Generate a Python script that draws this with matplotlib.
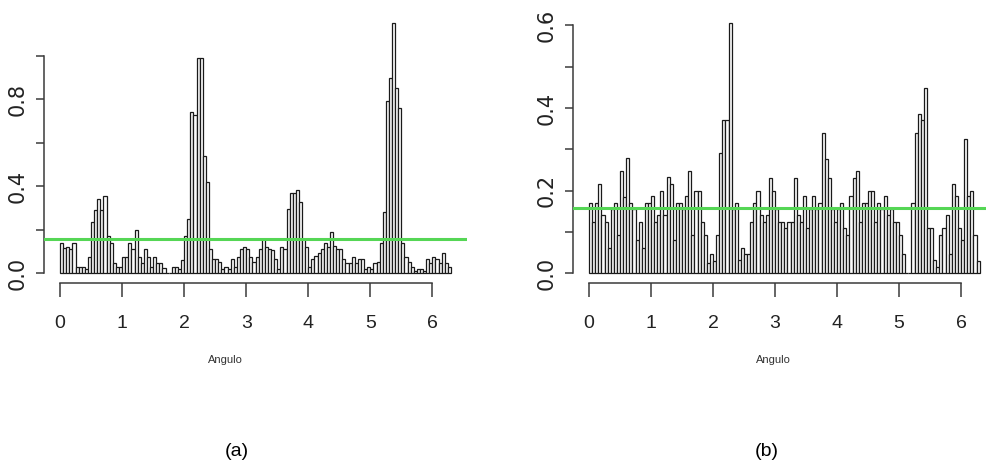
import numpy as np
import matplotlib
matplotlib.use("Agg")
import matplotlib.pyplot as plt

# Histogram densities of the angle (radians), bin width 0.05 over [0, 6.3]
bin_width = 0.05
dens_a = [0.14, 0.115, 0.123, 0.11, 0.14, 0.03, 0.03, 0.03, 0.018, 0.077,
          0.234, 0.29, 0.34, 0.29, 0.355, 0.17, 0.14, 0.046, 0.03, 0.03,
          0.077, 0.077, 0.14, 0.11, 0.2, 0.077, 0.046, 0.11, 0.077, 0.03,
          0.077, 0.046, 0.046, 0.023, 0.0, 0.0, 0.03, 0.03, 0.018, 0.06,
          0.17, 0.25, 0.74, 0.73, 0.99, 0.99, 0.54, 0.42, 0.11, 0.065,
          0.065, 0.05, 0.018, 0.03, 0.018, 0.065, 0.03, 0.077, 0.11, 0.123,
          0.11, 0.077, 0.05, 0.077, 0.11, 0.157, 0.123, 0.11, 0.108, 0.065,
          0.018, 0.123, 0.11, 0.295, 0.37, 0.37, 0.385, 0.326, 0.157, 0.123,
          0.03, 0.065, 0.08, 0.095, 0.11, 0.14, 0.123, 0.19, 0.125, 0.11,
          0.11, 0.065, 0.046, 0.046, 0.077, 0.046, 0.065, 0.065, 0.018, 0.03,
          0.018, 0.046, 0.05, 0.14, 0.28, 0.79, 0.9, 1.15, 0.85, 0.76,
          0.14, 0.077, 0.054, 0.03, 0.01, 0.018, 0.018, 0.01, 0.065, 0.046,
          0.077, 0.065, 0.046, 0.095, 0.046, 0.03]
dens_b = [0.17, 0.125, 0.17, 0.217, 0.14, 0.125, 0.06, 0.156, 0.17, 0.093,
          0.247, 0.185, 0.279, 0.17, 0.156, 0.08, 0.125, 0.06, 0.17, 0.17,
          0.187, 0.125, 0.14, 0.2, 0.14, 0.232, 0.217, 0.08, 0.17, 0.17,
          0.156, 0.187, 0.247, 0.093, 0.2, 0.2, 0.125, 0.093, 0.024, 0.047,
          0.03, 0.093, 0.29, 0.37, 0.37, 0.605, 0.156, 0.17, 0.032, 0.06,
          0.047, 0.047, 0.125, 0.17, 0.2, 0.14, 0.125, 0.14, 0.23, 0.2,
          0.156, 0.125, 0.125, 0.11, 0.125, 0.125, 0.23, 0.14, 0.125, 0.187,
          0.11, 0.156, 0.187, 0.156, 0.17, 0.34, 0.277, 0.23, 0.156, 0.123,
          0.156, 0.17, 0.11, 0.093, 0.187, 0.23, 0.247, 0.125, 0.17, 0.17,
          0.2, 0.2, 0.125, 0.17, 0.156, 0.187, 0.14, 0.156, 0.125, 0.125,
          0.093, 0.047, 0.0, 0.0, 0.17, 0.34, 0.385, 0.37, 0.448, 0.11,
          0.11, 0.032, 0.016, 0.093, 0.11, 0.14, 0.047, 0.217, 0.187, 0.11,
          0.08, 0.324, 0.187, 0.2, 0.093, 0.03]

x_ticks = [0, 1, 2, 3, 4, 5, 6]
x_label = "Angulo"
yticks_a = [0.0, 0.2, 0.4, 0.6, 0.8, 1.0]
ylabels_a = ["0.0", "", "0.4", "", "0.8", ""]
yticks_b = [0.0, 0.1, 0.2, 0.3, 0.4, 0.5, 0.6]
ylabels_b = ["0.0", "", "0.2", "", "0.4", "", "0.6"]
panel_tags = ["(a)", "(b)"]

narrow = ["Liberation Sans Narrow", "Liberation Sans", "DejaVu Sans"]
axis_col = "#3a3a3a"

fig = plt.figure(figsize=(9.87, 4.65), dpi=100)
fig.patch.set_facecolor("white")


def r_hist(ax, dens, yticks, ylabels):
    dens = np.asarray(dens)
    left = np.arange(len(dens)) * bin_width
    right_edge = len(dens) * bin_width
    ax.bar(left, dens, width=bin_width, align="edge", facecolor="#fbfbfb",
           edgecolor="#1a1a1a", linewidth=0.9, zorder=2)
    ax.axhline(1.0 / (2.0 * np.pi), color="#55d655", lw=2.2, zorder=3)
    ymax = dens.max()
    ax.set_xlim(-0.04 * right_edge, right_edge * 1.04)
    ax.set_ylim(-0.04 * ymax, ymax * 1.04)
    for s in ("top", "right"):
        ax.spines[s].set_visible(False)
    ax.spines["bottom"].set_bounds(x_ticks[0], x_ticks[-1])
    ax.spines["left"].set_bounds(yticks[0], yticks[-1])
    for s in ("bottom", "left"):
        ax.spines[s].set_color(axis_col)
        ax.spines[s].set_linewidth(1.1)
    ax.set_xticks(x_ticks)
    ax.set_xticklabels([str(t) for t in x_ticks], family=narrow, fontsize=14)
    ax.set_yticks(yticks)
    ax.set_yticklabels(ylabels, family=["DejaVu Sans"], fontsize=15,
                       rotation=90, va="center")
    ax.tick_params(axis="x", length=10, width=1.1, color=axis_col, pad=13,
                   labelcolor="#222222")
    ax.tick_params(axis="y", length=5.8, width=1.1, color=axis_col, pad=6,
                   labelcolor="#222222")
    ax.patch.set_alpha(0)


ax_a = fig.add_axes([0.04498, 0.3908, 0.4278, 0.5809])
r_hist(ax_a, dens_a, yticks_a, ylabels_a)
ax_b = fig.add_axes([0.5810, 0.3908, 0.4274, 0.5804])
r_hist(ax_b, dens_b, yticks_b, ylabels_b)

fig.text(0.2285, 0.2258, x_label, ha="center", va="center", fontsize=8,
         family=narrow, color="#333333")
fig.text(0.7832, 0.2258, x_label, ha="center", va="center", fontsize=8,
         family=narrow, color="#333333")
fig.text(0.2398, 0.0286, panel_tags[0], ha="center", va="center",
         fontsize=14, family=["Liberation Sans", "DejaVu Sans"])
fig.text(0.7768, 0.0286, panel_tags[1], ha="center", va="center",
         fontsize=14, family=["Liberation Sans", "DejaVu Sans"])

fig.savefig("out.png", dpi=100, facecolor="white")
